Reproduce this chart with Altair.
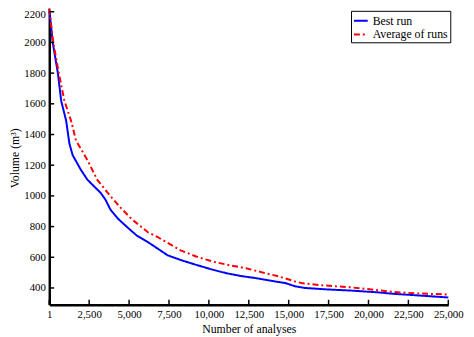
import altair as alt
import pandas as pd

best_x = [0, 215, 540, 750, 1058, 1261, 1464, 1980, 2183, 2386, 2798, 3210, 3518, 3825, 4336, 4950, 5500,
          6180, 6800, 7410, 8300, 9256, 10200, 11100, 12000, 12950, 14000, 14790, 15400, 16000, 17500,
          18900, 20500, 21550, 22580, 25000]
best_v = [2220, 2000, 1800, 1618, 1490, 1341, 1266, 1170, 1138, 1106, 1063, 1021, 976, 912, 848, 790, 740,
          699, 656, 613, 580, 549, 520, 496, 478, 464, 445, 432, 411, 400, 390,
          383, 372, 362, 355, 338]

avg_x = [0, 250, 600, 953, 1365, 1673, 2386, 3001, 3825, 4500, 5154, 6180, 6800, 8230, 9200, 10280, 11300,
         12340, 13400, 14380, 15400, 15800, 17000, 18900, 20200, 21550, 23000, 25000]
avg_v = [2220, 2000, 1800, 1618, 1490, 1362, 1234, 1106, 999, 920, 850, 763, 731, 645, 605, 571, 548,
         528, 500, 475, 443, 432, 418, 404, 390, 374, 365, 357]

series_names = ["Best run", "Average of runs"]
x_ticks = [1, 2500, 5000, 7500, 10000, 12500, 15000, 17500, 20000, 22500, 25000]
y_ticks = [400, 600, 800, 1000, 1200, 1400, 1600, 1800, 2000, 2200]

df = pd.concat([
    pd.DataFrame({"x": best_x, "v": best_v, "s": series_names[0], "o": range(len(best_x))}),
    pd.DataFrame({"x": avg_x, "v": avg_v, "s": series_names[1], "o": range(len(avg_x))}),
])

W, H = 406, 299
FONT = "Liberation Serif"

xscale = alt.Scale(domain=[1, 25000], nice=False, zero=False)
yscale = alt.Scale(domain=[291, 2206], nice=False, zero=False)
xaxis = alt.Axis(values=x_ticks, labelExpr="format(datum.value, ',')", title="Number of analyses",
                 tickSize=0, labelPadding=4, titlePadding=4, grid=False, labelOverlap=False,
                 labelFlush=False)
yaxis = alt.Axis(values=y_ticks, labelExpr="format(datum.value, 'd')", title="Volume (m³)", tickSize=0,
                 labelPadding=4, titlePadding=2, grid=False, labelOverlap=False, labelFlush=False,
                 labelOffset={"condition": {"test": "datum.value == 2200", "value": 3}, "value": 0})

leg = dict(title=None, orient="none", legendX=307, legendY=0,
           symbolType="stroke", symbolSize=196, symbolStrokeWidth=2,
           labelFont=FONT, labelFontSize=12, labelColor="black",
           strokeColor="black", fillColor="white", padding=2,
           rowPadding=0, labelOffset=4, cornerRadius=0)

lines = alt.Chart(df).mark_line(strokeWidth=2, clip=False).encode(
    x=alt.X("x:Q", scale=xscale, axis=xaxis),
    y=alt.Y("v:Q", scale=yscale, axis=yaxis),
    color=alt.Color("s:N", scale=alt.Scale(domain=series_names, range=["#0000ff", "#ff0000"]),
                    legend=alt.Legend(**leg)),
    strokeDash=alt.StrokeDash("s:N", scale=alt.Scale(domain=series_names, range=[[1, 0], [6, 3, 2, 3]]),
                              legend=alt.Legend(**leg)),
    order="o:Q",
)

xt = alt.Chart(pd.DataFrame({"x": x_ticks})).mark_rule(color="black", strokeWidth=1.5).encode(
    x=alt.X("x:Q", scale=xscale, axis=xaxis), y=alt.value(H), y2=alt.value(H - 5))
yt = alt.Chart(pd.DataFrame({"v": y_ticks})).mark_rule(color="black", strokeWidth=1.5).encode(
    y=alt.Y("v:Q", scale=yscale, axis=yaxis), x=alt.value(0), x2=alt.value(5))

chart = alt.layer(lines, xt, yt).properties(
    width=W, height=H,
    autosize=alt.AutoSizeParams(type="none"),
    padding={"left": 42, "top": 0, "right": 18, "bottom": 30},
).configure_view(stroke=None).configure_axis(
    domainColor="black", domainWidth=2.5, labelFont=FONT, labelFontSize=11, labelColor="black",
    titleFont=FONT, titleFontSize=12, titleColor="black", titleFontWeight="normal",
)

chart.save("out.html", embed_options={"renderer": "svg", "actions": False})
